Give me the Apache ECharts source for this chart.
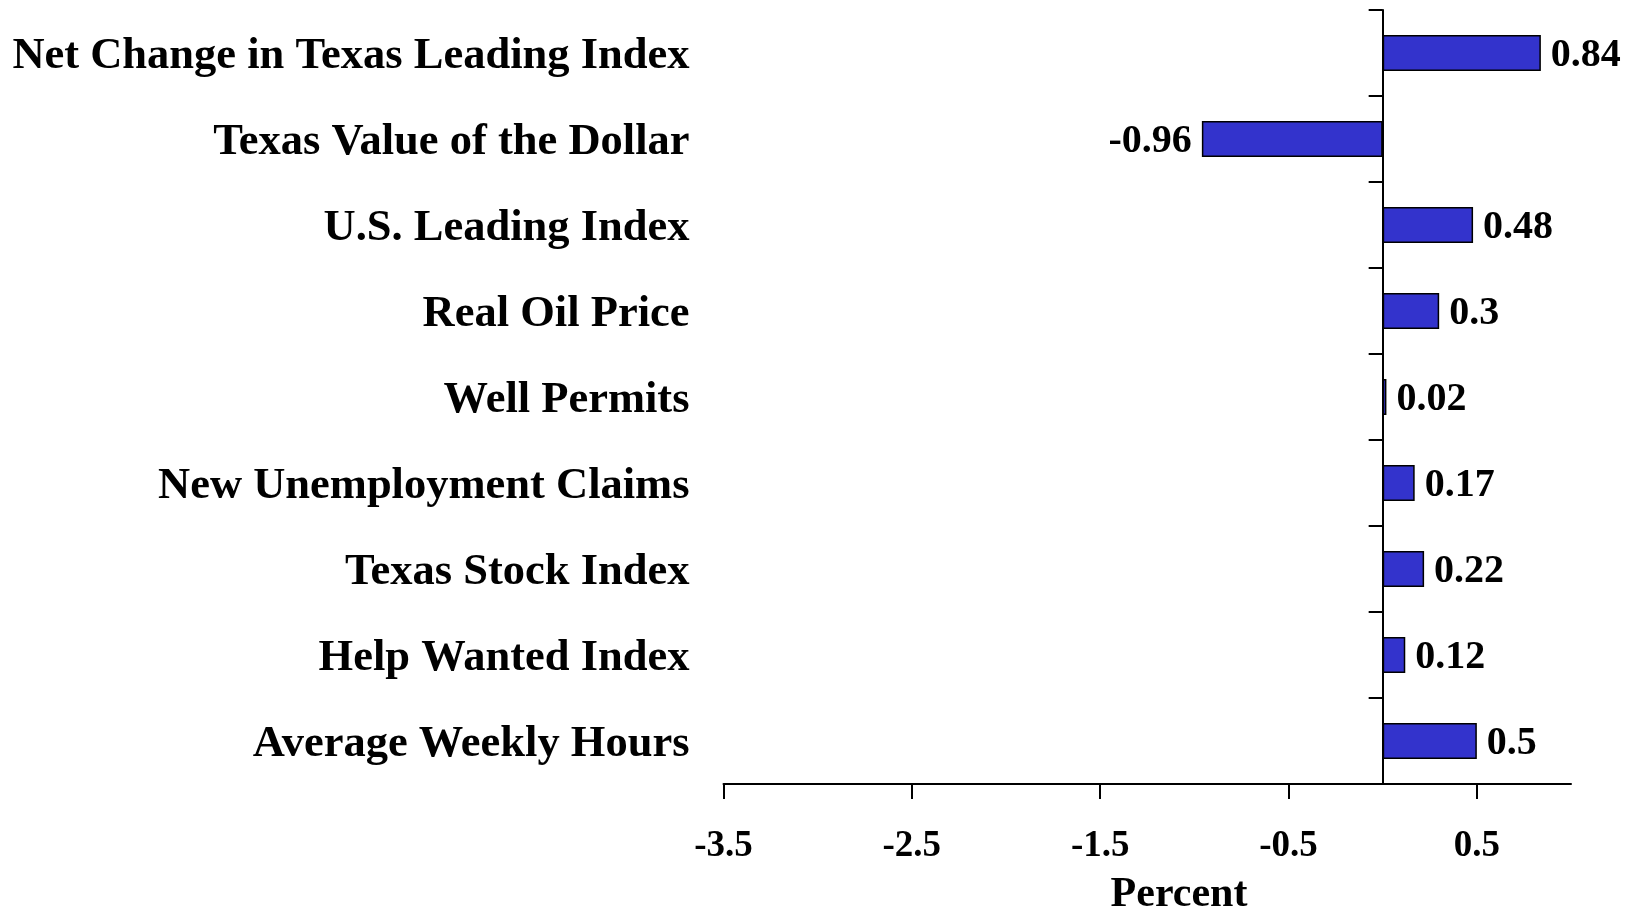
<!DOCTYPE html>
<html>
<head>
<meta charset="utf-8">
<script src="https://cdn.jsdelivr.net/npm/echarts@6/dist/echarts.min.js"></script>
<style>
html,body{margin:0;padding:0;background:#fff;}
#chart{width:1637px;height:911px;}
</style>
</head>
<body>
<div id="chart"></div>
<script>
const categories = [
  'Net Change in Texas Leading Index',
  'Texas Value of the Dollar',
  'U.S. Leading Index',
  'Real Oil Price',
  'Well Permits',
  'New Unemployment Claims',
  'Texas Stock Index',
  'Help Wanted Index',
  'Average Weekly Hours'
];
const values = [0.84, -0.96, 0.48, 0.3, 0.02, 0.17, 0.22, 0.12, 0.5];
const xTicks = [-3.5, -2.5, -1.5, -0.5, 0.5];
const xName = 'Percent';

const FONT = '"Liberation Serif", "Times New Roman", serif';
const chart = echarts.init(document.getElementById('chart'));
chart.setOption({
  animation: false,
  backgroundColor: '#ffffff',
  grid: { left: 723.5, right: 66, top: 10, bottom: 127, containLabel: false },
  xAxis: {
    type: 'value',
    min: -3.5,
    max: 1.0,
    interval: 1,
    splitLine: { show: false },
    axisLine: { show: true, onZero: false, lineStyle: { color: '#000', width: 2 } },
    axisTick: { show: true, length: 15, lineStyle: { color: '#000', width: 2 }, customValues: xTicks },
    axisLabel: {
      customValues: xTicks,
      margin: 44,
      color: '#000',
      fontSize: 37,
      fontWeight: 'bold',
      fontFamily: FONT,
      formatter: v => String(v)
    }
  },
  yAxis: [
    {
      type: 'category',
      data: categories,
      inverse: true,
      axisLine: { show: true, onZero: true, lineStyle: { color: '#000', width: 2 } },
      axisTick: { show: true, length: 14, lineStyle: { color: '#000', width: 2 } },
      axisLabel: { show: false },
      splitLine: { show: false }
    },
    {
      type: 'category',
      data: categories,
      inverse: true,
      position: 'left',
      axisLine: { show: false, onZero: false },
      axisTick: { show: false },
      splitLine: { show: false },
      axisLabel: {
        margin: 34,
        color: '#000',
        fontSize: 44.5,
        fontWeight: 'bold',
        fontFamily: FONT,
        verticalAlign: 'top',
        lineHeight: 6
      }
    }
  ],
  graphic: [{
    type: 'text',
    x: 1179,
    y: 895,
    style: {
      text: xName,
      fill: '#000',
      font: 'bold 42px ' + FONT,
      textAlign: 'center',
      textVerticalAlign: 'middle'
    }
  }],
  series: [{
    type: 'bar',
    yAxisIndex: 0,
    barWidth: 36,
    data: values.map(v => ({
      value: v,
      label: { position: v < 0 ? 'left' : 'right' }
    })),
    itemStyle: { color: '#3333CC', borderColor: '#000', borderWidth: 1.5 },
    label: {
      show: true,
      distance: 10,
      color: '#000',
      fontSize: 40,
      fontWeight: 'bold',
      fontFamily: FONT,
      verticalAlign: 'top',
      lineHeight: 6,
      formatter: p => String(p.value)
    }
  }]
});
</script>
</body>
</html>
